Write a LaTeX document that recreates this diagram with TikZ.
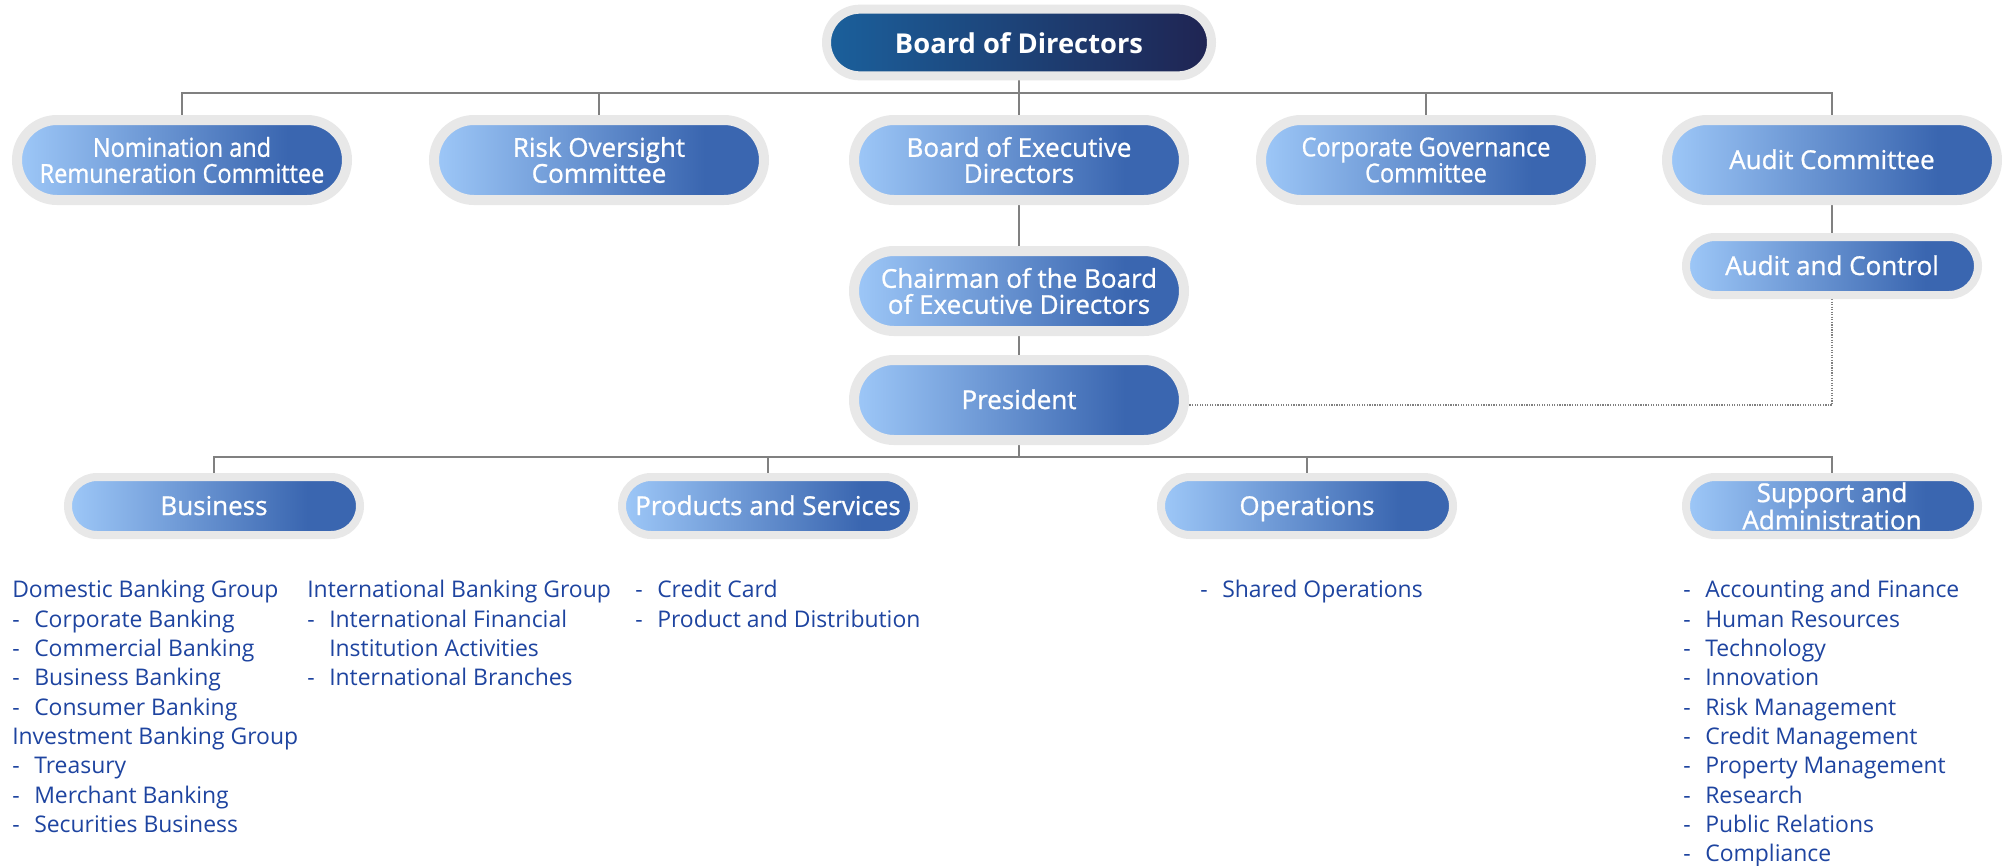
\documentclass[tikz,border=0pt]{standalone}
\usepackage{fontspec}
\setmainfont{Open Sans}
\newfontfamily\pillfont{Open Sans}[RawFeature={embolden=0.9}]
\newfontfamily\condfont{Open Sans}[FakeStretch=0.9, RawFeature={embolden=0.9}]
\usetikzlibrary{backgrounds}
\definecolor{pl}{RGB}{158,200,248}
\definecolor{pd}{RGB}{58,102,176}
\definecolor{bl}{RGB}{27,96,156}
\definecolor{bd}{RGB}{31,36,82}
\definecolor{band}{RGB}{232,232,232}
\definecolor{linegray}{RGB}{128,128,128}
\definecolor{listblue}{RGB}{30,68,160}
\pgfdeclarehorizontalshading{pillshade}{100bp}{color(0bp)=(pl); color(25bp)=(pl); color(66bp)=(pd); color(100bp)=(pd)}
\pgfdeclarehorizontalshading{boardshade}{100bp}{color(0bp)=(bl); color(25bp)=(bl); color(75bp)=(bd); color(100bp)=(bd)}
\newcommand{\myitem}[1]{\makebox[16.5pt][l]{-}#1}
\tikzset{
  pillbase/.style={rectangle, draw=band, text=white, align=center, inner sep=0pt},
  boardpill/.style={pillbase, shading=boardshade, minimum width=288.75pt, minimum height=50pt,
    rounded corners=25pt, line width=6.75pt, font=\fontsize{20.5}{22}\selectfont\bfseries,
    text height=16pt, text depth=0pt},
  cpill/.style={pillbase, shading=pillshade, minimum width=247.5pt, minimum height=60pt,
    rounded corners=30pt, line width=7.5pt, font=\pillfont\fontsize{19.5}{19.5}\selectfont},
  cpillsmall/.style={cpill, font=\condfont\fontsize{19.6}{19.5}\selectfont},
  spill/.style={pillbase, shading=pillshade, minimum width=219pt, minimum height=43.5pt,
    rounded corners=21.75pt, line width=6pt, font=\pillfont\fontsize{19.5}{18.75}\selectfont},
  oneline/.style={text height=13.5pt, text depth=0pt},
  conn/.style={draw=linegray, line width=1pt},
  dotline/.style={draw=linegray, line width=0.9pt, densely dotted},
  listtext/.style={anchor=north west, inner sep=0pt, align=left, text=listblue,
    font=\fontsize{17.2}{22}\selectfont}
}
\begin{document}
\begin{tikzpicture}[x=0.75pt,y=-0.75pt]
\useasboundingbox (0,0) rectangle (2002,865);
% nodes
\node[boardpill] (board) at (1019,42.5) {Board of Directors};
\node[cpillsmall] (nom) at (182,160) {Nomination and\\Remuneration Committee};
\node[cpill] (risk) at (599,160) {Risk Oversight\\Committee};
\node[cpill] (bexec) at (1019,160) {Board of Executive\\Directors};
\node[cpillsmall] (corp) at (1426,160) {Corporate Governance\\Committee};
\node[cpill, oneline] (audit) at (1832,160) {Audit Committee};
\node[cpill] (chair) at (1019,291) {Chairman of the Board\\of Executive Directors};
\node[cpill, oneline] (pres) at (1019,400) {President};
\node[spill, oneline] (audctl) at (1832,266) {Audit and Control};
\node[spill, oneline] (business) at (214,506) {Business};
\node[spill, oneline] (prod) at (768,506) {Products and Services};
\node[spill, oneline] (ops) at (1307,506) {Operations};
\node[spill] (support) at (1832,506) {Support and\\Administration};
% lists
\node[listtext] (domlist) at (12,580) {Domestic Banking Group\\
\myitem{Corporate Banking}\\
\myitem{Commercial Banking}\\
\myitem{Business Banking}\\
\myitem{Consumer Banking}\\
Investment Banking Group\\
\myitem{Treasury}\\
\myitem{Merchant Banking}\\
\myitem{Securities Business}};
\node[listtext] (intlist) at (307,580) {International Banking Group\\
\myitem{International Financial}\\
\hspace*{16.5pt}Institution Activities\\
\myitem{International Branches}};
\node[listtext] (prodlist) at (635,580) {\myitem{Credit Card}\\
\myitem{Product and Distribution}};
\node[listtext] (opslist) at (1200,580) {\myitem{Shared Operations}};
\node[listtext] (suplist) at (1683,580) {\myitem{Accounting and Finance}\\
\myitem{Human Resources}\\
\myitem{Technology}\\
\myitem{Innovation}\\
\myitem{Risk Management}\\
\myitem{Credit Management}\\
\myitem{Property Management}\\
\myitem{Research}\\
\myitem{Public Relations}\\
\myitem{Compliance}};
% connectors
\begin{scope}[on background layer]
\fill[white] (0,0) rectangle (2002,865);
\coordinate (bus1) at (1019,93);
\coordinate (bus2) at (1019,457);
\draw[conn] (board.south) -- (bexec.north);
\draw[conn] (board.south) -- (bus1) -| (nom.north);
\draw[conn] (board.south) -- (bus1) -| (risk.north);
\draw[conn] (board.south) -- (bus1) -| (corp.north);
\draw[conn] (board.south) -- (bus1) -| (audit.north);
\draw[conn] (bexec.south) -- (chair.north);
\draw[conn] (chair.south) -- (pres.north);
\draw[conn] (audit.south) -- (audctl.north);
\draw[conn] (pres.south) -- (bus2) -| (business.north);
\draw[conn] (pres.south) -- (bus2) -| (prod.north);
\draw[conn] (pres.south) -- (bus2) -| (ops.north);
\draw[conn] (pres.south) -- (bus2) -| (support.north);
\draw[dotline] (audctl.south) |- ([yshift=-3.75pt]pres.east);
\end{scope}
\end{tikzpicture}
\end{document}
